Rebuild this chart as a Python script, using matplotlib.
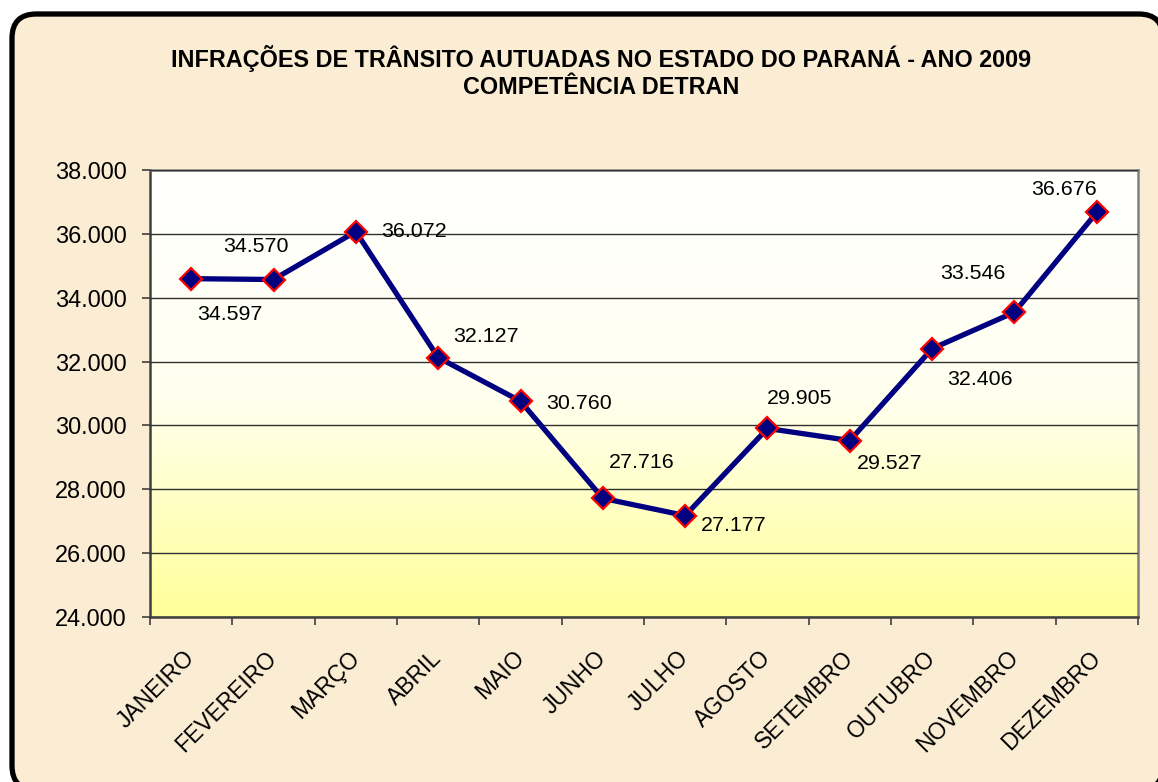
import numpy as np
import matplotlib.pyplot as plt
from matplotlib.patches import FancyBboxPatch
from matplotlib.colors import LinearSegmentedColormap

# Dados do gráfico
meses = ['JANEIRO', 'FEVEREIRO', 'MARÇO', 'ABRIL', 'MAIO', 'JUNHO',
         'JULHO', 'AGOSTO', 'SETEMBRO', 'OUTUBRO', 'NOVEMBRO', 'DEZEMBRO']
infracoes = [34597, 34570, 36072, 32127, 30760, 27716,
             27177, 29905, 29527, 32406, 33546, 36676]
yticks = [24000, 26000, 28000, 30000, 32000, 34000, 36000, 38000]

# deslocamento dos rótulos (pixels) em relação ao ponto
label_offsets = [(39, -36), (-18, 33), (58, 0), (48, 21), (59, -2), (39, 36),
                 (49, -10), (32, 30), (40, -23), (48, -31), (-42, 39), (-33, 23)]


def fmt(v):
    return f'{v:,}'.replace(',', '.')


fig = plt.figure(figsize=(11.58, 7.82), dpi=100, facecolor='white')

# moldura arredondada (cortada à direita e embaixo, como no original)
W, H = 1158, 782
frame = FancyBboxPatch((12 / W, -8 / H), (1163 - 12) / W, (782 - 14 + 8) / H,
                       boxstyle='round,pad=0,rounding_size=0.021',
                       transform=fig.transFigure, facecolor='#FAEDD3',
                       edgecolor='black', linewidth=3.8, zorder=-5,
                       mutation_aspect=W / H)
fig.patches.append(frame)

fig.text(601 / W, 1 - 58 / H, 'INFRAÇÕES DE TRÂNSITO AUTUADAS NO ESTADO DO PARANÁ - ANO 2009',
         ha='center', va='center', fontsize=16.8, fontweight='bold',
         family='Liberation Sans')
fig.text(601 / W, 1 - 87 / H, 'COMPETÊNCIA DETRAN',
         ha='center', va='center', fontsize=16.8, fontweight='bold',
         family='Liberation Sans')

ax = fig.add_axes([150 / W, 1 - 617 / H, 988 / W, 447 / H])
ax.set_facecolor('none')

# fundo em degradê branco -> amarelo
cmap = LinearSegmentedColormap.from_list('grad', ['#FFFFFF', '#FFFFF0', '#FFFF99'])
grad = np.linspace(0, 1, 256).reshape(-1, 1)
ax.imshow(grad, cmap=cmap, aspect='auto', extent=[0, 1, 0, 1],
          transform=ax.transAxes, zorder=0)

x = np.arange(len(meses))
ax.plot(x, infracoes, color='#000080', linewidth=3.8, zorder=3,
        marker='D', markersize=11, markerfacecolor='#000080',
        markeredgecolor='#FF0000', markeredgewidth=1.6)

for xi, v, (dx, dy) in zip(x, infracoes, label_offsets):
    ax.annotate(fmt(v), (xi, v), xytext=(dx, dy), textcoords='offset pixels',
                ha='center', va='center', fontsize=15.4, family='Liberation Sans',
                zorder=4)

ax.set_xlim(-0.5, len(meses) - 0.5)
ax.set_ylim(24000, 38000)
ax.set_yticks(yticks)
ax.set_yticklabels([fmt(v) for v in yticks], fontsize=16.9, family='Liberation Sans')
ax.yaxis.grid(True, color='#303030', linewidth=1.0)
ax.set_axisbelow(False)
for gl in ax.get_ygridlines():
    gl.set_zorder(1)

ax.set_xticks(x)
ax.set_xticklabels(meses, rotation=45, ha='right', va='center',
                   rotation_mode='anchor', fontsize=16.5, family='Liberation Sans')
ax.tick_params(axis='x', which='major', length=0, pad=27)
ax.set_xticks(np.arange(-0.5, len(meses) + 0.5), minor=True)
ax.tick_params(axis='x', which='minor', length=6, width=1.2, color='#404040', direction='out')
ax.tick_params(axis='y', length=6, width=1.2, color='#404040', direction='out', pad=11)

for s in ['left', 'bottom']:
    ax.spines[s].set_color('#404040')
    ax.spines[s].set_linewidth(1.8)
for s in ['top', 'right']:
    ax.spines[s].set_color('#808080')
    ax.spines[s].set_linewidth(1.8)

fig.savefig('out.png', dpi=100, facecolor='white')
